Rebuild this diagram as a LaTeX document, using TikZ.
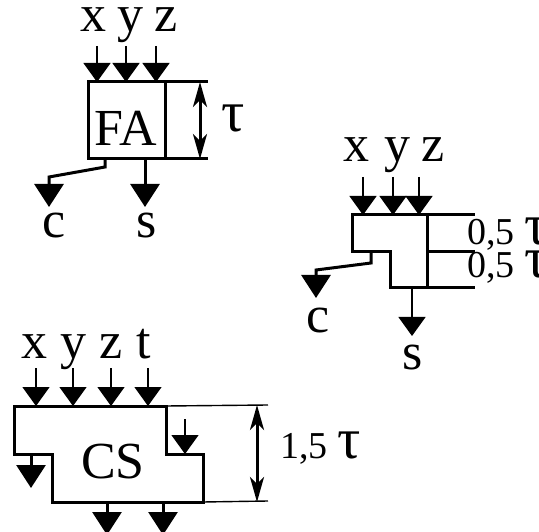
\documentclass[tikz,border=0pt]{standalone}
\usepackage{fontspec}
\setmainfont{Liberation Serif}
\usetikzlibrary{arrows.meta}
\newcommand{\bigtau}{{\fontsize{58}{58}\selectfont τ}}
\tikzset{
    bigtext/.style={anchor=base,inner sep=0pt,font=\fontsize{52}{52}\selectfont},
    midtext/.style={anchor=base west,inner sep=0pt,font=\fontsize{38}{38}\selectfont},
    blockline/.style={line width=3pt,line join=miter},
    dimline/.style={line width=3pt},
    thindim/.style={line width=1.4pt},
    thinin/.style={line width=1.4pt,-{Triangle[width=27pt,length=19pt]}},
    thickout/.style={line width=3pt,-{Triangle[width=29pt,length=23pt]}},
    dimarrow/.style={line width=3pt,{Stealth[width=14pt,length=25pt,inset=7pt]}-{Stealth[width=14pt,length=25pt,inset=7pt]}}
}
\begin{document}
\begin{tikzpicture}[x=1pt,y=-1pt]
    \useasboundingbox (0,0) rectangle (539,532);
    % FA
    \node[draw,blockline,minimum width=77pt,minimum height=77pt,inner sep=0pt,outer sep=0pt] (fa) at (126.5,120.5) {};
    \node[bigtext] (falabel) at (126,146) {FA};
    \node[bigtext] (fax) at (93,32) {x};
    \node[bigtext] (fay) at (130,32) {y};
    \node[bigtext] (faz) at (166,32) {z};
    \node[bigtext] (fac) at (54,238) {c};
    \node[bigtext] (fas) at (147,238) {s};
    \node[bigtext] (fatau) at (233,132) {\bigtau};
    \coordinate (fain1) at (97,46);
    \coordinate (fain2) at (126,46);
    \coordinate (fain3) at (156,46);
    \coordinate (fabend1) at (105,167);
    \coordinate (fabend2) at (49,177);
    \coordinate (facout) at (49,207);
    \coordinate (fasout) at (145,207);
    \coordinate (fadim1) at (208,82);
    \coordinate (fadim2) at (208,159);
    \coordinate (fadim3) at (200,82);
    \coordinate (fadim4) at (200,159);
    \draw[thinin] (fain1) -- (fain1 |- fa.north);
    \draw[thinin] (fain2) -- (fain2 |- fa.north);
    \draw[thinin] (fain3) -- (fain3 |- fa.north);
    \draw[dimline] (fa.north east) -- (fadim1);
    \draw[dimline] (fa.south east) -- (fadim2);
    \draw[dimarrow] (fadim3) -- (fadim4);
    \draw[thickout] (fabend1 |- fa.south) -- (fabend1) -- (fabend2) -- (facout);
    \draw[thickout] (fasout |- fa.south) -- (fasout);
    % half block
    \node[bigtext] (hax) at (356,162) {x};
    \node[bigtext] (hay) at (397,162) {y};
    \node[bigtext] (haz) at (433,162) {z};
    \node[bigtext] (hac) at (318,332) {c};
    \node[bigtext] (has) at (413,370) {s};
    \node[midtext] (hatop) at (467,245) {0,5 \bigtau};
    \node[midtext] (habot) at (467,278) {0,5 \bigtau};
    \draw[blockline] (352,215) coordinate (ha1) -- (427,215) coordinate (ha2)
        -- (427,252) coordinate (ha3) -- (427,288) coordinate (ha4)
        -- (390,288) coordinate (ha5) -- (390,252) coordinate (ha6)
        -- (352,252) coordinate (ha7) -- cycle;
    \coordinate (hain1) at (363,177);
    \coordinate (hain2) at (393,177);
    \coordinate (hain3) at (419,177);
    \coordinate (habend1) at (371,263);
    \coordinate (habend2) at (316,270);
    \coordinate (hacout) at (316,298);
    \coordinate (hasout) at (412,336);
    \draw[thinin] (hain1) -- (hain1 |- ha1);
    \draw[thinin] (hain2) -- (hain2 |- ha1);
    \draw[thinin] (hain3) -- (hain3 |- ha1);
    \draw[dimline] (ha2) -- (475,215);
    \draw[dimline] (ha3) -- (475,252);
    \draw[dimline] (ha4) -- (475,288);
    \draw[thickout] (habend1 |- ha7) -- (habend1) -- (habend2) -- (hacout);
    \draw[thinin] (hasout |- ha4) -- (hasout);
    % CS
    \node[bigtext] (csx) at (34,358) {x};
    \node[bigtext] (csy) at (73,358) {y};
    \node[bigtext] (csz) at (111,358) {z};
    \node[bigtext] (cst) at (144,358) {t};
    \node[bigtext] (cslabel) at (113,478) {CS};
    \node[midtext] (cstau) at (280,458) {1,5 \bigtau};
    \draw[blockline] (14,406) coordinate (cs1) -- (166,406) coordinate (cs2)
        -- (166,454) coordinate (cs3) -- (203,454) coordinate (cs4)
        -- (203,502) coordinate (cs5) -- (52,502) coordinate (cs6)
        -- (52,454) coordinate (cs7) -- (14,454) coordinate (cs8) -- cycle;
    \coordinate (csin1) at (36,368);
    \coordinate (csin2) at (73,368);
    \coordinate (csin3) at (111,368);
    \coordinate (csin4) at (148,368);
    \coordinate (csin5) at (185,419);
    \coordinate (csout1) at (31,488);
    \coordinate (csout2) at (107,535);
    \coordinate (csout3) at (163,535);
    \coordinate (csdim1) at (268,405);
    \coordinate (csdim2) at (268,501);
    \coordinate (csdim3) at (257,405);
    \coordinate (csdim4) at (257,502);
    \draw[thinin] (csin1) -- (csin1 |- cs1);
    \draw[thinin] (csin2) -- (csin2 |- cs1);
    \draw[thinin] (csin3) -- (csin3 |- cs1);
    \draw[thinin] (csin4) -- (csin4 |- cs1);
    \draw[thinin] (csin5) -- (csin5 |- cs3);
    \draw[thickout] (csout1 |- cs8) -- (csout1);
    \draw[thickout] (csout2 |- cs6) -- (csout2);
    \draw[thickout] (csout3 |- cs6) -- (csout3);
    \draw[thindim] (cs2) -- (csdim1);
    \draw[thindim] (cs5) -- (csdim2);
    \draw[dimarrow] (csdim3) -- (csdim4);
\end{tikzpicture}
\end{document}
